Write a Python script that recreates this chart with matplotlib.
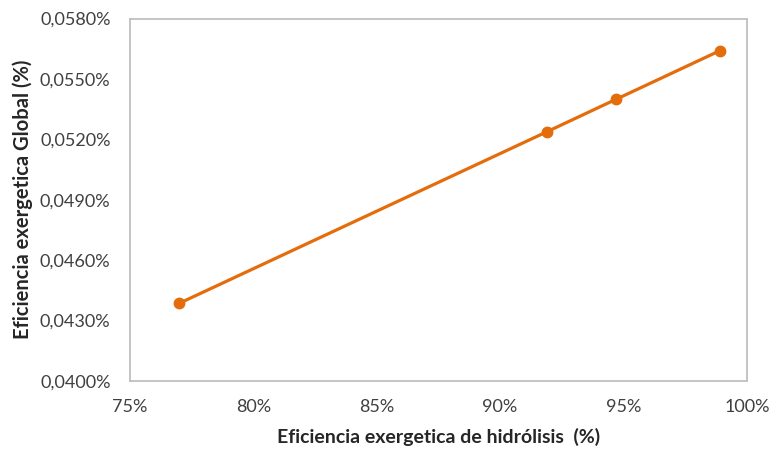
import matplotlib
matplotlib.use("Agg")
import matplotlib.pyplot as plt
from matplotlib.ticker import FuncFormatter

# Hydrolysis exergy efficiency (%) vs. global exergy efficiency (%)
hidrolisis = [77.0, 91.9, 94.7, 98.9]
global_eff = [0.04386, 0.05238, 0.05399, 0.05640]

x_ticks = [75, 80, 85, 90, 95, 100]
y_ticks = [0.040, 0.043, 0.046, 0.049, 0.052, 0.055, 0.058]

orange = "#E46C0A"
text_col = "#404040"
frame_col = "#BFBFBF"

plt.rcParams["font.family"] = ["Lato", "DejaVu Sans"]

fig = plt.figure(figsize=(7.71, 4.53), dpi=100)
ax = fig.add_axes([0.1686, 0.159, 0.8, 0.8])

ax.plot(hidrolisis, global_eff, color=orange, lw=2.3, marker="o",
        markersize=7.5, markerfacecolor=orange, markeredgecolor=orange,
        solid_capstyle="round")

ax.set_xlim(75, 100)
ax.set_ylim(0.040, 0.058)
ax.set_xticks(x_ticks)
ax.set_yticks(y_ticks)
ax.xaxis.set_major_formatter(FuncFormatter(lambda v, p: f"{v:.0f}%"))
ax.yaxis.set_major_formatter(
    FuncFormatter(lambda v, p: f"{v:.4f}%".replace(".", ",")))

ax.tick_params(axis="both", length=0, labelsize=13, colors=text_col)
ax.tick_params(axis="x", pad=13)
ax.tick_params(axis="y", pad=14)

for s in ax.spines.values():
    s.set_color(frame_col)
    s.set_linewidth(1.3)

ax.set_xlabel("Eficiencia exergetica de hidrólisis  (%)", fontsize=14,
              fontweight="bold", color="#262626", labelpad=9)
ax.set_ylabel("Eficiencia exergetica Global (%)", fontsize=14.5,
              fontweight="bold", color="#262626", labelpad=5)

fig.savefig("out.png", dpi=100)
